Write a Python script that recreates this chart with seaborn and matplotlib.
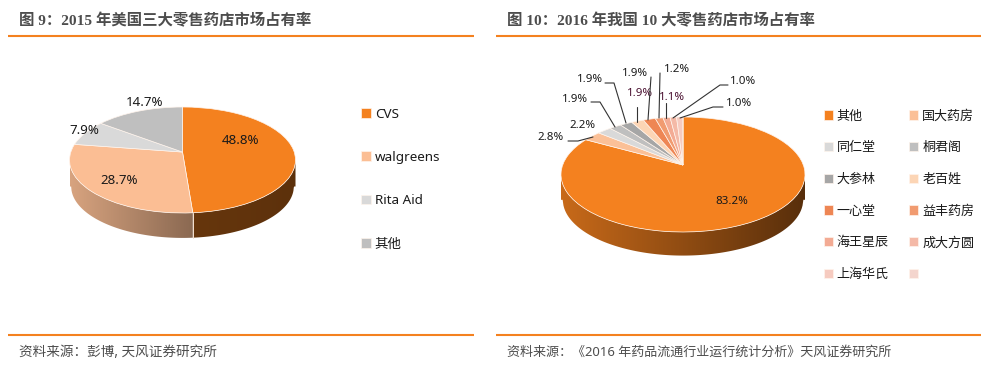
import matplotlib
matplotlib.use('AGG')
import matplotlib.pyplot as plt
from matplotlib.patches import Polygon
import numpy as np
import seaborn as sns

# left pie, us pharmacy share 2015
us_names = ["CVS", "walgreens", "Rita Aid", "其他"]
us_share = [48.8, 28.7, 7.9, 14.7]
us_colors = ["#F4811F", "#FBBE94", "#D9D9D9", "#BFBFBF"]

# right pie, china top 10 2016. last legend entry has no name and no value in the source
cn_names = ["其他", "国大药房", "同仁堂", "桐君阁", "大参林", "老百姓",
            "一心堂", "益丰药房", "海王星辰", "成大方圆", "上海华氏", " "]
cn_share = [83.2, 2.8, 2.2, 1.9, 1.9, 1.9, 1.9, 1.2, 1.1, 1.0, 1.0, 0.0]
cn_colors = ["#F4811F", "#FBC097", "#D9D9D9", "#BFBFBF", "#A6A6A6", "#FCD5B5",
             "#EE8654", "#F19B70", "#F3AB94", "#F4B9A7", "#F6CBC0", "#F4D5CD"]

W, H = 994, 365
ORANGE = "#F4811F"
GREY = "#4D4D4D"
TITLE_FONT = ["Liberation Serif", "Noto Sans CJK SC"]
CJK_FONT = ["Noto Sans", "Noto Sans CJK SC"]

sns.set_theme(style="white")
plt.rcParams["font.family"] = CJK_FONT

fig = plt.figure(figsize=(W / 100, H / 100), dpi=100)


def boost(x, y, c):
    # projective map of the unit disc: rim stays on the rim, centre moves up by c
    den = 1 + c * y
    return x * np.sqrt(1 - c * c) / den, (y + c) / den


def side_bottom(x, depth):
    return -depth - 0.97 * np.sqrt(np.clip(1 - (x / 0.985) ** 2, 0, 1))


def draw_pie(values, colors, cx, cy, a, b, c, depth, shades):
    ax = fig.add_axes([0, 0, 1, 1])
    ax.patch.set_visible(False)
    palette = sns.color_palette(colors)
    wedges, _ = ax.pie(values, colors=palette, startangle=90, counterclock=False,
                       wedgeprops={"edgecolor": "#FFF4EC", "linewidth": 0.5, "zorder": 3})

    for i, w in enumerate(wedges):
        path = w.get_path()
        vx, vy = boost(path.vertices[:, 0], path.vertices[:, 1], c)
        path.vertices = np.column_stack([vx, vy])
        if i not in shades:
            continue

        # side of the slab, only the part of the rim that faces us
        t = np.radians(np.linspace(w.theta1, w.theta2, 800))
        rx, ry = boost(np.cos(t), np.sin(t), c)
        xs = np.sort(rx[ry <= 0])
        xs = np.linspace(xs[0], xs[-1], 300)
        top = -np.sqrt(np.clip(1 - xs ** 2, 0, 1))
        low = side_bottom(xs, depth)

        s0, s1 = shades[i]
        ramp = np.linspace(s0, s1, 300)[None, :, None] * np.array(palette[i])[None, None, :]
        im = ax.imshow(ramp, extent=(xs[0], xs[-1], low.min(), 0), aspect="auto", zorder=1)
        outline = Polygon(np.column_stack([np.r_[xs, xs[::-1]], np.r_[top, low[::-1]]]),
                          transform=ax.transData, visible=False)
        ax.add_patch(outline)
        im.set_clip_path(outline)

        # pale seam where two slices meet on the side
        for ang in (w.theta1, w.theta2):
            ex, ey = boost(np.cos(np.radians(ang)), np.sin(np.radians(ang)), c)
            if ey < -0.5:
                ax.plot([ex, ex], [ey, side_bottom(ex, depth)], color="#F6E2D2", lw=0.6, zorder=2)

    ax.set_aspect("auto")
    ax.set_xlim(-cx / a, (W - cx) / a)
    ax.set_ylim((cy - H) / b, cy / b)
    return wedges


us_wedges = draw_pie(us_share, us_colors, 182.5, 160, 113, 53, 0.15, 0.5,
                     {0: (0.42, 0.38), 1: (0.86, 0.55)})
cn_wedges = draw_pie(cn_share, cn_colors, 683, 174.5, 122, 57.5, 0.165, 0.44,
                     {0: (0.82, 0.36)})

# overlay in pixel coordinates for headers, rules and labels
over = fig.add_axes([0, 0, 1, 1])
over.patch.set_visible(False)
over.set_xlim(0, W)
over.set_ylim(H, 0)
over.axis("off")

for x0, x1 in [(8, 474), (496, 981)]:
    over.plot([x0, x1], [36, 36], color=ORANGE, lw=1.5, solid_capstyle="butt")
    over.plot([x0, x1], [335, 335], color=ORANGE, lw=1.5, solid_capstyle="butt")

over.text(19, 21, "图 9：2015 年美国三大零售药店市场占有率", family=TITLE_FONT, weight="bold",
          fontsize=11.1, color=GREY, va="center")
over.text(507, 21, "图 10：2016 年我国 10 大零售药店市场占有率", family=TITLE_FONT, weight="bold",
          fontsize=11.1, color=GREY, va="center")
over.text(19, 352, "资料来源：彭博, 天风证券研究所", fontsize=9.8, color=GREY, va="center")
over.text(507, 352, "资料来源：《2016 年药品流通行业运行统计分析》天风证券研究所", fontsize=9.4,
          color=GREY, va="center")

# value labels
us_label_pos = [(241, 141), (119, 181), (84, 130), (145, 102)]
for v, (x, y) in zip(us_share, us_label_pos):
    over.text(x, y, f"{v}%", fontsize=9.6, color="#1A1A1A", ha="center", va="center")

cn_label_pos = [(732, 201), (551, 137), (582, 125), (575, 99), (590, 80), (640, 94),
                (635, 73), (677, 70), (672, 97), (743, 82), (739, 103)]
cn_label_col = ["#1A1A1A"] * 5 + ["#4A1030"] + ["#1A1A1A"] * 2 + ["#4A1030"] + ["#1A1A1A"] * 2
for v, (x, y), col in zip(cn_share, cn_label_pos, cn_label_col):
    over.text(x, y, f"{v}%", fontsize=8.3, color=col, ha="center", va="center")

leaders = [
    [(568, 141), (578, 141), (593, 137)],
    [(591, 102), (600, 102), (615, 127)],
    [(605, 83), (614, 83), (626, 123)],
    [(637, 107), (637, 122)],
    [(651, 77), (648, 120)],
    [(660, 73), (659, 118)],
    [(666, 103), (666, 118)],
    [(728, 85), (720, 85), (673, 118)],
    [(723, 107), (713, 107), (680, 118)],
]
for pts in leaders:
    xs, ys = zip(*pts)
    over.plot(xs, ys, color="#333333", lw=0.8, zorder=4)

# legends
us_leg = fig.legend(us_wedges, us_names, loc="upper left", bbox_to_anchor=(358.5 / W, 1 - 105 / H),
                    frameon=False, fontsize=9.7, handlelength=0.72, handleheight=0.72,
                    handletextpad=0.28, labelspacing=2.25, borderpad=0.2, borderaxespad=0)
# legend fills columns first, reference reads row by row
order = list(range(0, 12, 2)) + list(range(1, 12, 2))
cn_leg = fig.legend([cn_wedges[i] for i in order], [cn_names[i] for i in order], loc="upper left",
                    bbox_to_anchor=(821 / W, 1 - 107 / H), ncols=2, frameon=False, fontsize=9.4,
                    handlelength=0.7, handleheight=0.7, handletextpad=0.28, labelspacing=1.43,
                    columnspacing=1.6, borderpad=0.2, borderaxespad=0)
for t in us_leg.get_texts() + cn_leg.get_texts():
    t.set_color("#1A1A1A")

fig.savefig("out.png", dpi=100, facecolor="white")
